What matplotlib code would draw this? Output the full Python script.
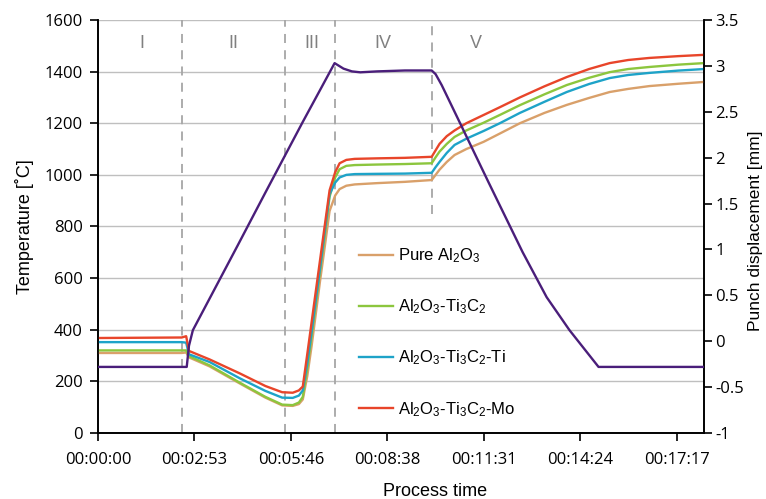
import matplotlib
matplotlib.use('Agg')
import matplotlib.pyplot as plt
from matplotlib.ticker import FixedLocator, FuncFormatter

plt.rcParams['font.family'] = ['Liberation Sans', 'DejaVu Sans']
plt.rcParams['mathtext.fontset'] = 'custom'
plt.rcParams['mathtext.rm'] = 'Liberation Sans'
plt.rcParams['mathtext.it'] = 'Liberation Sans'

# process time [s] for the temperature curves
t_temp = [0, 150, 158, 163, 200, 254, 300, 330, 349, 360, 367, 375, 383, 389, 398,
          405, 415, 425, 433, 445, 460, 500, 550, 598, 605, 612, 625, 639, 660,
          691, 720, 756, 800, 840, 880, 917, 950, 988, 1040, 1086]

temp_pure = [310, 310, 312, 293, 258, 192, 137, 107, 105, 112, 130, 220, 340, 440, 590,
             700, 860, 920, 945, 958, 963, 968, 973, 980, 1000, 1020, 1050, 1077, 1100,
             1128, 1160, 1200, 1240, 1271, 1298, 1321, 1333, 1344, 1353, 1360]
temp_tic = [320, 320, 320, 298, 262, 195, 140, 110, 108, 118, 140, 250, 380, 480, 630,
            745, 915, 990, 1022, 1035, 1038, 1040, 1042, 1045, 1068, 1090, 1120, 1147, 1172,
            1202, 1232, 1270, 1312, 1348, 1376, 1398, 1410, 1418, 1427, 1433]
temp_ti = [352, 352, 350, 305, 275, 212, 163, 137, 136, 145, 165, 270, 395, 495, 640,
           760, 925, 970, 990, 1000, 1003, 1004, 1005, 1008, 1030, 1050, 1085, 1116, 1140,
           1170, 1200, 1240, 1283, 1321, 1352, 1375, 1387, 1395, 1404, 1410]
temp_mo = [368, 370, 375, 318, 285, 231, 182, 158, 156, 165, 180, 305, 432, 528, 671,
           782, 940, 1010, 1045, 1058, 1062, 1064, 1066, 1070, 1095, 1120, 1150, 1172, 1200,
           1232, 1262, 1300, 1343, 1379, 1410, 1433, 1445, 1453, 1460, 1465]

# punch displacement [mm]
t_punch = [0, 150, 159, 163, 170, 250, 300, 367, 400, 424, 440, 455, 470, 500, 550,
           598, 605, 616, 643, 700, 761, 804, 845, 897, 1086]
punch = [-0.28, -0.28, -0.28, -0.05, 0.12, 1.04, 1.62, 2.39, 2.76, 3.03, 2.97, 2.94, 2.93,
         2.94, 2.95, 2.95, 2.91, 2.79, 2.45, 1.73, 0.97, 0.48, 0.12, -0.28, -0.28]

series_labels = [r'Pure Al$_2$O$_3$', r'Al$_2$O$_3$-Ti$_3$C$_2$',
                 r'Al$_2$O$_3$-Ti$_3$C$_2$-Ti', r'Al$_2$O$_3$-Ti$_3$C$_2$-Mo']
series_colors = ['#D9A06A', '#8CC63E', '#1EA3C8', '#E8452A']

# stage boundaries [s]
stage_bounds = [150, 335, 424, 598]
stage_names = ['I', 'II', 'III', 'IV', 'V']
stage_text_x = [79, 243, 384, 511, 678]

major = 172.8  # 0.002 day
xmax = 1086


def hms(v, pos=None):
    s = int(round(v))
    return f'{s // 3600:02d}:{(s % 3600) // 60:02d}:{s % 60:02d}'


fig = plt.figure(figsize=(7.66, 4.99), dpi=100)
ax = fig.add_axes([98 / 766, 66 / 499, 606 / 766, 413 / 499])
ax2 = ax.twinx()

ax.set_xlim(0, xmax)
ax.set_ylim(0, 1600)
ax2.set_ylim(-1, 3.5)

ax.set_yticks(range(0, 1601, 200))
ax.grid(axis='y', color='#BFBFBF', lw=1)
ax.set_axisbelow(True)

# stage separators
for i, b in enumerate(stage_bounds):
    y0 = 850 if i == 3 else 0
    ax.plot([b, b], [y0, 1600], color='#A6A6A6', lw=1.3, ls=(0, (5, 4)), zorder=1)
for name, x in zip(stage_names, stage_text_x):
    ax.text(x, 1510, name, ha='center', va='center', fontsize=13, color='#808080')

temps = [temp_pure, temp_tic, temp_ti, temp_mo]
handles = []
for vals, c, lab in zip(temps, series_colors, series_labels):
    h, = ax.plot(t_temp, vals, color=c, lw=1.7, label=lab, zorder=3)
    handles.append(h)

ax2.plot(t_punch, punch, color='#4A1E7A', lw=1.7, zorder=4)
ax2.set_yticks([-1, -0.5, 0, 0.5, 1, 1.5, 2, 2.5, 3, 3.5])
ax2.yaxis.set_major_formatter(FuncFormatter(lambda v, p: f'{v:g}'))

ax.xaxis.set_major_locator(FixedLocator([major * i for i in range(7)]))
ax.xaxis.set_major_formatter(FuncFormatter(hms))

for a in (ax, ax2):
    a.spines['top'].set_visible(False)
    for sp in a.spines.values():
        sp.set_linewidth(1.2)
    a.tick_params(length=6, width=1.2, direction='out',
                  labelfontfamily='Open Sans', labelsize=12)
ax.tick_params(axis='y', pad=5)
ax.tick_params(axis='x', pad=8)
ax2.tick_params(axis='y', pad=2)

ax.set_ylabel('Temperature [˚C]', fontsize=13)
ax.yaxis.set_label_coords(-0.105, 0.5)
ax2.set_ylabel('Punch displacement [mm]', fontsize=12.5)
ax2.yaxis.set_label_coords(1.072, 0.49)
ax.set_xlabel('Process time', fontsize=13)
ax.xaxis.set_label_coords(0.556, -0.12)

ax2.legend(handles=handles, loc='upper left', bbox_to_anchor=(0.42, 0.468),
           frameon=False, fontsize=12, labelspacing=1.95, handlelength=2.05,
           handletextpad=0.3, borderaxespad=0)

fig.savefig('out.png', dpi=100)
